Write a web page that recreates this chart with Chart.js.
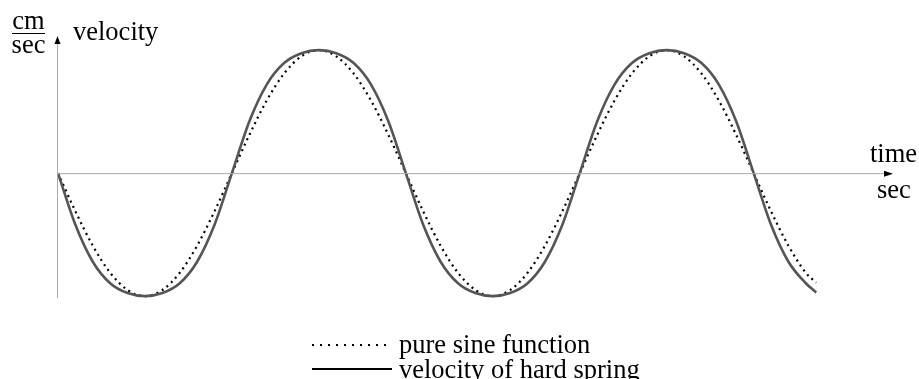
<!DOCTYPE html>
<html>
<head>
<meta charset="utf-8">
<title>velocity of hard spring</title>
<script src="https://cdn.jsdelivr.net/npm/chart.js@4.4.1/dist/chart.umd.min.js"></script>
<style>
  html, body { margin: 0; padding: 0; background: #fff; }
  #chart { display: block; }
</style>
</head>
<body>
<canvas id="chart" width="919" height="379"></canvas>
<script>
// time in half-periods
const times = [
  0.0, 0.1, 0.2, 0.3, 0.4, 0.5, 0.6, 0.7, 0.8, 0.9,
  1.0, 1.1, 1.2, 1.3, 1.4, 1.5, 1.6, 1.7, 1.8, 1.9,
  2.0, 2.1, 2.2, 2.3, 2.4, 2.5, 2.6, 2.7, 2.8, 2.9,
  3.0, 3.1, 3.2, 3.3, 3.4, 3.5, 3.6, 3.7, 3.8, 3.9,
  4.0, 4.1, 4.2, 4.3, 4.36
];

const sineVel = [
  0, -0.31, -0.59, -0.81, -0.95, -1, -0.95, -0.81, -0.59, -0.31,
  0, 0.31, 0.59, 0.81, 0.95, 1, 0.95, 0.81, 0.59, 0.31,
  0, -0.31, -0.59, -0.81, -0.95, -1, -0.95, -0.81, -0.59, -0.31,
  0, 0.31, 0.59, 0.81, 0.95, 1, 0.95, 0.81, 0.59, 0.31,
  0, -0.31, -0.59, -0.81, -0.89
];

const hardVel = [
  0, -0.42, -0.72, -0.895, -0.975, -1, -0.975, -0.895, -0.72, -0.42,
  0, 0.42, 0.72, 0.895, 0.975, 1, 0.975, 0.895, 0.72, 0.42,
  0, -0.42, -0.72, -0.895, -0.975, -1, -0.975, -0.895, -0.72, -0.42,
  0, 0.42, 0.72, 0.895, 0.975, 1, 0.975, 0.895, 0.72, 0.42,
  0, -0.42, -0.72, -0.895, -0.97
];

const legendLabels = ['pure sine function', 'velocity of hard spring'];

const FONT = '26.5px "Liberation Serif", "Times New Roman", serif';

function toPoints(ys) {
  return times.map((t, i) => ({ x: t, y: ys[i] }));
}

// axes with arrowheads, unit labels and the legend
const decorations = {
  id: 'decorations',
  afterDatasetsDraw(chart) {
    const ctx = chart.ctx;
    const x = chart.scales.x, y = chart.scales.y;
    const x0 = x.getPixelForValue(0);
    const y0 = y.getPixelForValue(0);
    const area = chart.chartArea;

    ctx.save();
    ctx.strokeStyle = '#aaaaaa';
    ctx.lineWidth = 1;
    ctx.beginPath();
    ctx.moveTo(x0 - 0.5, area.bottom);
    ctx.lineTo(x0 - 0.5, area.top - 3);
    ctx.moveTo(x0, y0 + 0.5);
    ctx.lineTo(886, y0 + 0.5);
    ctx.stroke();

    ctx.fillStyle = '#000';
    ctx.beginPath();
    ctx.moveTo(x0 - 0.5, area.top - 8);
    ctx.lineTo(x0 - 3.5, area.top);
    ctx.lineTo(x0 + 2.5, area.top);
    ctx.closePath();
    ctx.fill();
    ctx.beginPath();
    ctx.moveTo(893, y0 + 0.5);
    ctx.lineTo(884, y0 - 2.5);
    ctx.lineTo(884, y0 + 3.5);
    ctx.closePath();
    ctx.fill();

    ctx.font = FONT;
    ctx.textBaseline = 'alphabetic';
    ctx.textAlign = 'center';
    ctx.fillText('cm', 28.5, 29);
    ctx.fillText('sec', 28.5, 53);
    ctx.fillRect(12, 33, 33, 1);
    ctx.textAlign = 'left';
    ctx.fillText('velocity', 73, 40);
    ctx.fillText('time', 870, 162);
    ctx.fillText('sec', 877, 198);

    // legend
    ctx.fillText(legendLabels[0], 399, 353);
    ctx.fillText(legendLabels[1], 399, 378);
    ctx.strokeStyle = '#000';
    ctx.lineWidth = 2;
    ctx.setLineDash([2, 6]);
    ctx.beginPath();
    ctx.moveTo(312, 345);
    ctx.lineTo(392, 345);
    ctx.stroke();
    ctx.setLineDash([]);
    ctx.beginPath();
    ctx.moveTo(312, 369);
    ctx.lineTo(392, 369);
    ctx.stroke();
    ctx.restore();
  }
};

new Chart(document.getElementById('chart'), {
  type: 'line',
  data: {
    datasets: [
      {
        label: legendLabels[1],
        data: toPoints(hardVel),
        borderColor: '#555555',
        borderWidth: 2.6,
        cubicInterpolationMode: 'monotone',
        pointRadius: 0,
        fill: false
      },
      {
        label: legendLabels[0],
        data: toPoints(sineVel),
        borderColor: '#000000',
        borderWidth: 2.2,
        borderDash: [2, 4],
        borderCapStyle: 'butt',
        cubicInterpolationMode: 'monotone',
        pointRadius: 0,
        fill: false
      }
    ]
  },
  options: {
    responsive: false,
    animation: false,
    events: [],
    layout: { padding: { left: 58, right: 61, top: 44, bottom: 81 } },
    plugins: {
      legend: { display: false },
      tooltip: { enabled: false }
    },
    scales: {
      x: { type: 'linear', min: 0, max: 4.6, display: false },
      y: { type: 'linear', min: -1.015, max: 1.05, display: false }
    }
  },
  plugins: [decorations]
});
</script>
</body>
</html>
